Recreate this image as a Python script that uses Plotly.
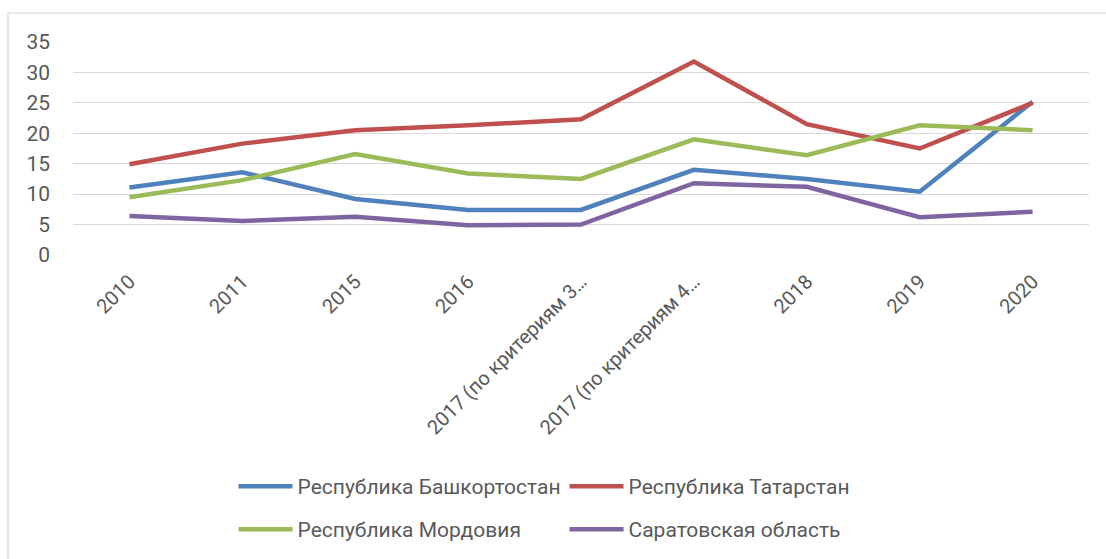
"""
Line chart: regional values 2010-2020.
"""
import plotly.graph_objects as go

categories = ['2010', '2011', '2015', '2016',
              '2017 (по критериям 3…', '2017 (по критериям 4…',
              '2018', '2019', '2020']

bashkortostan = [11.1, 13.6, 9.2, 7.4, 7.4, 14.0, 12.5, 10.4, 25.2]
tatarstan = [14.9, 18.3, 20.5, 21.3, 22.3, 31.8, 21.5, 17.5, 25.0]
mordovia = [9.5, 12.3, 16.6, 13.4, 12.5, 19.0, 16.4, 21.3, 20.5]
saratov = [6.4, 5.6, 6.3, 4.9, 5.0, 11.8, 11.2, 6.2, 7.1]

y_ticks = [0, 5, 10, 15, 20, 25, 30, 35]

series = [
    ('Республика Башкортостан', bashkortostan, '#4F81BD', 'legend'),
    ('Республика Татарстан', tatarstan, '#C0504D', 'legend'),
    ('Республика Мордовия', mordovia, '#9BBB59', 'legend2'),
    ('Саратовская область', saratov, '#8064A2', 'legend2'),
]

font_name = 'Roboto, Noto Sans, sans-serif'
text_color = '#595959'
fsize = 21

fig = go.Figure()

for name, vals, color, leg in series:
    fig.add_trace(go.Scatter(x=categories, y=vals, name=name, mode='lines',
        line=dict(color=color, width=4.5), legend=leg))

legend_style = dict(orientation='h', xanchor='left', yanchor='middle',
    entrywidth=262, entrywidthmode='pixels', bgcolor='rgba(0,0,0,0)',
    font=dict(family=font_name, size=fsize, color=text_color), itemwidth=54)

fig.update_layout(
    width=1106, height=559,
    margin=dict(l=73, r=17, t=42, b=303),
    paper_bgcolor='white', plot_bgcolor='white',
    font=dict(family=font_name, size=fsize, color=text_color),
    showlegend=True,
    legend=dict(x=0.158, y=-1.077, **legend_style),
    legend2=dict(x=0.158, y=-1.278, **legend_style),
    xaxis=dict(type='category', range=[-0.5, 8.5], tickangle=-45,
        showgrid=False, zeroline=False, showline=False, ticks='',
        ticklabelstandoff=10,
        tickfont=dict(family=font_name, size=fsize - 1, color=text_color)),
    yaxis=dict(range=[0, 35], tickvals=y_ticks, showgrid=True,
        gridcolor='#D9D9D9', gridwidth=1.3, zeroline=False, showline=False,
        ticks='', ticklabelstandoff=22,
        tickfont=dict(family=font_name, size=fsize, color=text_color)),
)

# chart area border (Excel style)
fig.add_shape(type='rect', xref='paper', yref='paper',
    x0=(8 - 73) / 1016, x1=1.2, y0=-2.0, y1=(256.3 - 13) / 214.3,
    line=dict(color='#D9D9D9', width=1.3), fillcolor='rgba(0,0,0,0)',
    layer='below')

fig.write_html("out.html", config={'displayModeBar': False},
    post_script="document.body.style.margin='0';")
